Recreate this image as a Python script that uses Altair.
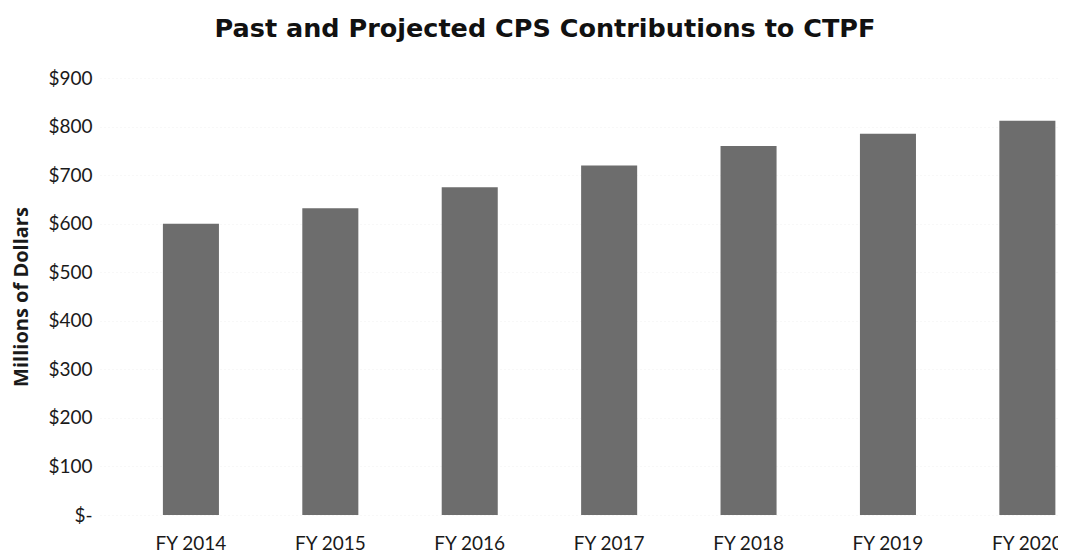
import altair as alt
import pandas as pd

years = ["FY 2014", "FY 2015", "FY 2016", "FY 2017", "FY 2018", "FY 2019", "FY 2020"]
contributions = [600, 632, 675, 720, 760, 785, 812]
y_ticks = [0, 100, 200, 300, 400, 500, 600, 700, 800, 900]

df = pd.DataFrame({"year": years, "value": contributions})

FONT = "Lato"
BOLD_FONT = "Open Sans"

chart = alt.Chart(df).mark_bar(color="#6d6d6d").encode(
    x=alt.X(
        "year:N",
        sort=years,
        title=None,
        scale=alt.Scale(paddingInner=0.598, paddingOuter=0.235, align=0.96),
        axis=alt.Axis(
            labelAngle=0,
            ticks=False,
            domain=False,
            grid=False,
            labelFont=FONT,
            labelFontSize=19,
            labelColor="#1a1a1a",
            labelPadding=19,
        ),
    ),
    y=alt.Y(
        "value:Q",
        title="Millions of Dollars",
        scale=alt.Scale(domain=[0, 900], nice=False),
        axis=alt.Axis(
            values=y_ticks,
            labelExpr="datum.value == 0 ? '$-\u2002' : '$' + datum.value",
            ticks=False,
            domain=False,
            grid=True,
            gridColor="#f0f0f0",
            gridDash=[1, 3],
            labelFont=FONT,
            labelFontSize=19,
            labelColor="#1a1a1a",
            labelPadding=8,
            titleFont=BOLD_FONT,
            titleFontSize=20,
            titleFontWeight="bold",
            titleColor="#1a1a1a",
            titleX=-79,
            titleY=218.5,
            titleAngle=-90,
            titleBaseline="middle",
            titleAlign="center",
        ),
    ),
).properties(
    width=958,
    height=437,
    title=alt.TitleParams(
        "Past and Projected CPS Contributions to CTPF",
        font="DejaVu Sans",
        fontSize=25.5,
        fontWeight="bold",
        color="#111111",
        anchor="middle",
        frame="group",
        dx=-34,
        dy=-23,
    ),
    autosize=alt.AutoSizeParams(type="none"),
    padding={"left": 92, "top": 70, "right": 0, "bottom": 38},
).configure_view(stroke=None)

chart.save("out.html", embed_options={"renderer": "svg", "actions": False})
